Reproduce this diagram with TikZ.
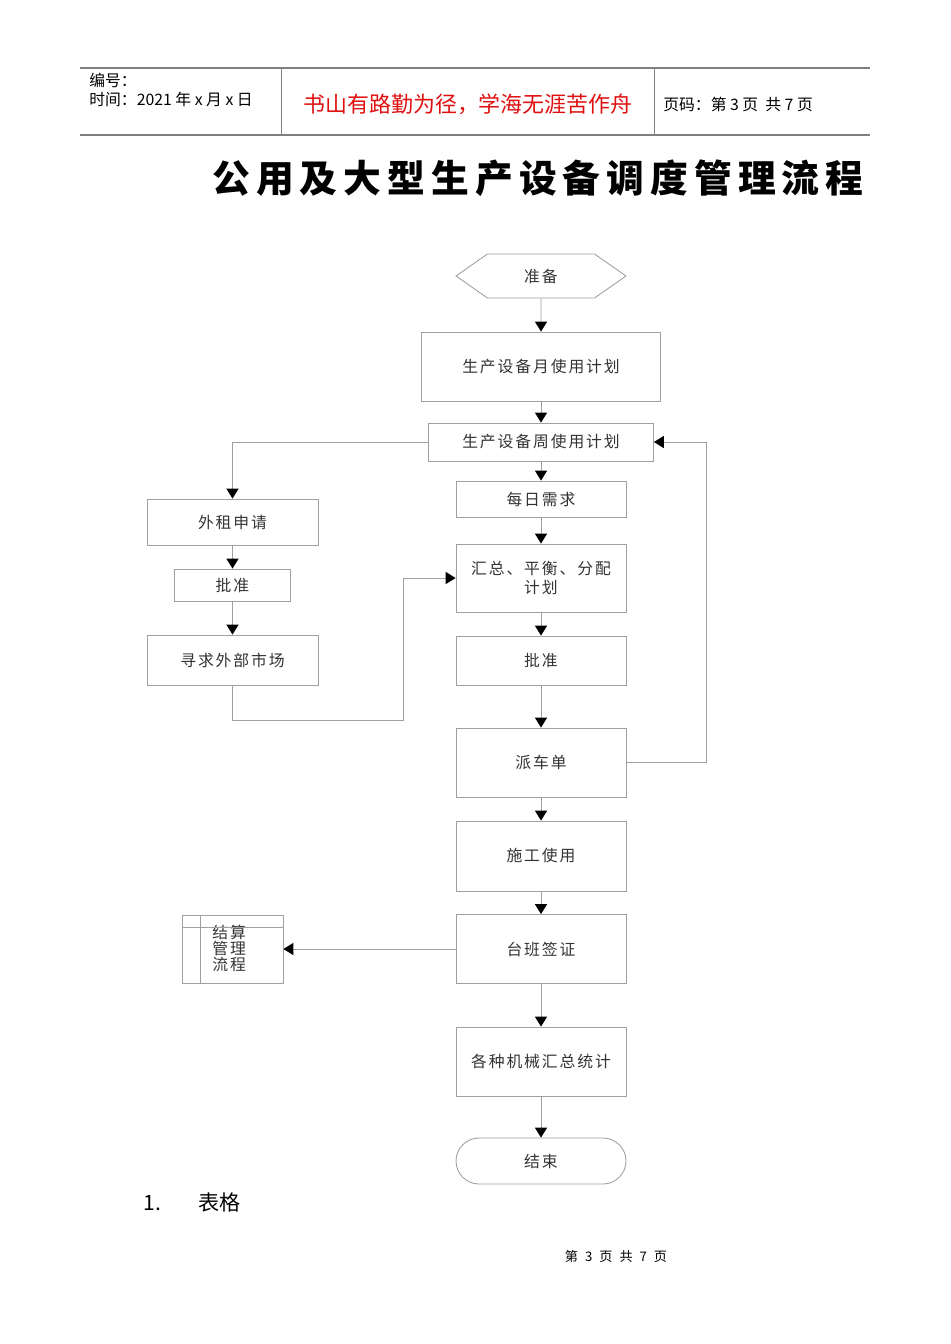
\documentclass[tikz,border=0pt]{standalone}
\usepackage{fontspec}
\setmainfont{Noto Sans CJK SC}
\newfontfamily\boxfont{Noto Sans CJK SC}[LetterSpace=12]
\newfontfamily\titlefont{Noto Sans CJK SC}[LetterSpace=16]
\usetikzlibrary{arrows.meta,shapes.symbols,positioning}
\definecolor{linegray}{HTML}{A0A0A0}
\definecolor{rulegray}{HTML}{808080}
\definecolor{headred}{HTML}{E01010}
\tikzset{
  stepbox/.style={draw=linegray,line width=0.5pt,rectangle,minimum width=3.4cm,font=\boxfont\fontsize{9}{10.5}\selectfont,text=black!80,align=center,inner sep=1pt},
  arr/.style={draw=linegray,line width=0.5pt,-{Triangle[width=6.8pt,length=5.6pt,color=black,fill=black]}},
  plain/.style={draw=linegray,line width=0.5pt}
}
\begin{document}
\begin{tikzpicture}[x=0.02cm,y=-0.02cm]
    \useasboundingbox (0,0) rectangle (950,1344);
    % header
    \draw[rulegray,line width=0.8pt] (80,68) -- (870,68);
    \draw[rulegray,line width=0.8pt] (80,135) -- (870,135);
    \draw[rulegray,line width=0.5pt] (281,68) -- (281,135);
    \draw[rulegray,line width=0.5pt] (654,68) -- (654,135);
    \node[anchor=west,inner sep=0,font=\fontsize{9}{10}\selectfont] (bianhao) at (89,80) {编号：};
    \node[anchor=west,inner sep=0,font=\fontsize{9}{10}\selectfont] (shijian) at (89,99) {时间：2021 年 x 月 x 日};
    \node[inner sep=0,text=headred,font=\fontsize{12.5}{14}\selectfont] (motto) at (468,104) {书山有路勤为径，学海无涯苦作舟};
    \node[anchor=west,inner sep=0,font=\fontsize{9}{10}\selectfont] (yema) at (663,104) {页码：第 3 页\ \ 共 7 页};
    \node[inner sep=0,font=\titlefont\bfseries\fontsize{21.5}{24}\selectfont] (title) at (538,178) {公用及大型生产设备调度管理流程};
    % main flow
    \node[stepbox,shape=signal,signal to=west and east,signal pointer angle=70,minimum height=0.88cm] (zhunbei) at (541,276) {准备};
    \node[stepbox,minimum width=4.78cm,minimum height=1.38cm] (yue) at (541,366.5) {生产设备月使用计划};
    \node[stepbox,minimum width=4.5cm,minimum height=0.76cm] (zhou) at (541,442) {生产设备周使用计划};
    \node[stepbox,minimum height=0.72cm] (meiri) at (541,499) {每日需求};
    \node[stepbox,minimum height=1.36cm] (huizong) at (541,578) {汇总、平衡、分配\\计划};
    \node[stepbox,minimum height=0.98cm] (pizhun) at (541,660.5) {批准};
    \node[stepbox,minimum height=1.38cm] (paiche) at (541,762.5) {派车单};
    \node[stepbox,minimum height=1.40cm] (shigong) at (541,856) {施工使用};
    \node[stepbox,minimum height=1.38cm] (taiban) at (541,949) {台班签证};
    \node[stepbox,minimum height=1.38cm] (gezhong) at (541,1061.5) {各种机械汇总统计};
    \node[stepbox,minimum height=0.92cm,rounded corners=0.46cm] (jieshu) at (541,1161) {结束};
    % left branch
    \node[stepbox,minimum width=3.42cm,minimum height=0.92cm] (waizu) at (232.5,522) {外租申请};
    \node[stepbox,minimum width=2.32cm,minimum height=0.64cm] (pizhunL) at (232.5,585) {批准};
    \node[stepbox,minimum width=3.42cm,minimum height=1.0cm] (xunqiu) at (232.5,660) {寻求外部市场};
    \node[stepbox,minimum width=2.02cm,minimum height=1.36cm] (jiesuan) at (232.5,949) {};
    \node[anchor=north west,inner sep=0,align=left,font=\boxfont\fontsize{9}{9}\selectfont,text=black!80] (jiesuantext) at (212,925) {结算\\管理\\流程};
    \draw[plain] ([xshift=0.38cm]jiesuan.north west) -- ([xshift=0.38cm]jiesuan.south west);
    \draw[plain] ([yshift=-0.26cm]jiesuan.north west) -- ([yshift=-0.26cm]jiesuan.north east);
    \coordinate (bend) at (403,720);
    \coordinate (back) at (706,442);
    \draw[arr] (zhunbei) -- (yue);
    \draw[arr] (yue) -- (zhou);
    \draw[arr] (zhou) -- (meiri);
    \draw[arr] (meiri) -- (huizong);
    \draw[arr] (huizong) -- (pizhun);
    \draw[arr] (pizhun) -- (paiche);
    \draw[arr] (paiche) -- (shigong);
    \draw[arr] (shigong) -- (taiban);
    \draw[arr] (taiban) -- (gezhong);
    \draw[arr] (gezhong) -- (jieshu);
    \draw[arr] (zhou.west) -| (waizu.north);
    \draw[arr] (waizu) -- (pizhunL);
    \draw[arr] (pizhunL) -- (xunqiu);
    \draw[arr] (xunqiu.south) |- (bend) |- (huizong.west);
    \draw[arr] (paiche.east) -| (back) -- (zhou.east);
    \draw[arr] (taiban.west) -- (jiesuan.east);
    % footer
    \node[anchor=west,inner sep=0,font=\fontsize{12}{14}\selectfont] (biaoge) at (143,1202) {1.\hspace{0.75cm}表格};
    \node[inner sep=0,font=\fontsize{7.5}{9}\selectfont] (yeshu) at (616,1256) {第\hspace{0.14cm}3\hspace{0.14cm}页\hspace{0.14cm}共\hspace{0.14cm}7\hspace{0.14cm}页};
\end{tikzpicture}
\end{document}
